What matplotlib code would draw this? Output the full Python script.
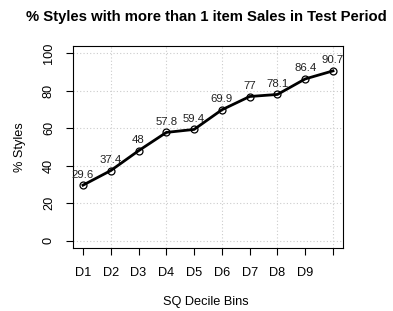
import matplotlib
matplotlib.use("Agg")
import matplotlib.pyplot as plt

categories = ["D1", "D2", "D3", "D4", "D5", "D6", "D7", "D8", "D9", ""]
values = [29.6, 37.4, 48, 57.8, 59.4, 69.9, 77, 78.1, 86.4, 90.7]
value_labels = ["29.6", "37.4", "48", "57.8", "59.4", "69.9", "77", "78.1", "86.4", "90.7"]
yticks = [0, 20, 40, 60, 80, 100]

plt.rcParams['font.family'] = ['Liberation Sans', 'DejaVu Sans']

W, H = 393, 311
fig = plt.figure(figsize=(W/100, H/100), dpi=100)
left, right, top, bottom = 73, 343, 46, 248
ax = fig.add_axes([left/W, 1-bottom/H, (right-left)/W, (bottom-top)/H])

x = list(range(1, len(values)+1))
ax.set_xlim(0.64, 10.36)
ax.set_ylim(-4, 104)

for gx in [2, 4, 6, 8, 10]:
    ax.axvline(gx, color='#cccccc', lw=0.8, ls=(0, (1, 2)), zorder=0)
for gy in yticks:
    ax.axhline(gy, color='#cccccc', lw=0.8, ls=(0, (1, 2)), zorder=0)

ax.plot(x, values, color='black', lw=2, zorder=2)
ax.plot(x, values, ls='none', marker='o', ms=5, mfc='none', mec='black', mew=0.9, zorder=3)
for xi, v, lab in zip(x, values, value_labels):
    ax.annotate(lab, (xi, v), xytext=(0, 4), textcoords='offset points',
                ha='center', va='bottom', fontsize=8.2, color='#222222')

ax.set_xticks(x)
ax.set_xticklabels(categories, fontsize=9.2)
ax.set_yticks(yticks)
ax.set_yticklabels([str(t) for t in yticks], fontsize=9.2)
ax.tick_params(axis='both', length=5, width=0.8, direction='out')
ax.tick_params(axis='x', pad=9)
ax.tick_params(axis='y', pad=8, labelrotation=90)
for t in ax.get_yticklabels():
    t.set_va('center')

for s in ['top', 'right', 'left', 'bottom']:
    ax.spines[s].set_linewidth(0.8)

ax.set_xlabel("SQ Decile Bins", fontsize=9.2)
ax.set_ylabel("% Styles", fontsize=9.2)
ax.xaxis.set_label_coords((206 - left)/(right-left), -(302-bottom)/(bottom-top))
ax.yaxis.set_label_coords(-(left-20)/(right-left), (bottom-147)/(bottom-top))
ax.xaxis.label.set_va('center')
ax.yaxis.label.set_va('center')
fig.text(206/W, 1-17/H, "% Styles with more than 1 item Sales in Test Period",
         ha='center', va='center', fontsize=10.7, fontweight='bold')

fig.savefig("out.png", dpi=100)
